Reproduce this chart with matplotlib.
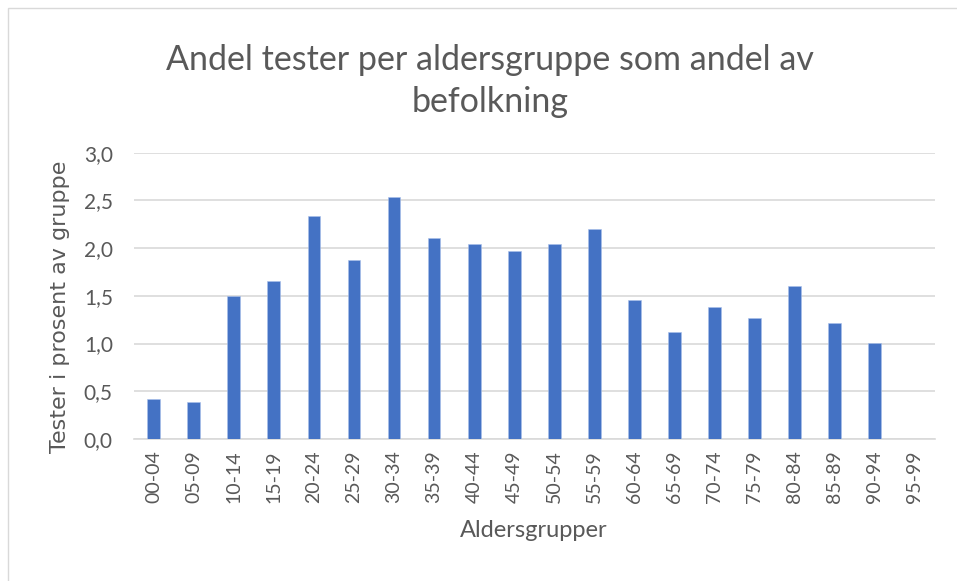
import matplotlib.pyplot as plt
from matplotlib.ticker import FuncFormatter, MultipleLocator
from matplotlib.patches import Rectangle

plt.rcParams['font.family'] = ['Lato', 'DejaVu Sans']

grupper = ['00-04', '05-09', '10-14', '15-19', '20-24', '25-29', '30-34', '35-39', '40-44', '45-49',
           '50-54', '55-59', '60-64', '65-69', '70-74', '75-79', '80-84', '85-89', '90-94', '95-99']
andel = [0.42, 0.39, 1.50, 1.66, 2.34, 1.88, 2.54, 2.11, 2.04, 1.97,
         2.04, 2.20, 1.46, 1.12, 1.38, 1.27, 1.60, 1.22, 1.01, 0.0]

tekst = '#595959'
fig = plt.figure(figsize=(9.57, 5.81), dpi=100)
fig.patches.append(Rectangle((0.008, -0.05), 1.2, 1.036, transform=fig.transFigure,
                             fill=False, edgecolor='#d9d9d9', linewidth=1))
ax = fig.add_axes([0.1397, 0.2444, 0.837, 0.4928])

x = range(len(grupper))
ax.bar(x, andel, width=0.32, color='#4472c4', edgecolor='#a9c0ea', linewidth=0.4, zorder=3)
ax.set_xlim(-0.5, len(grupper) - 0.5)
ax.set_ylim(0, 3.0)
ax.yaxis.set_major_locator(MultipleLocator(0.5))
ax.yaxis.set_major_formatter(FuncFormatter(lambda v, p: f'{v:.1f}'.replace('.', ',')))
ax.grid(axis='y', color='#d9d9d9', linewidth=1.2, zorder=0)
for s in ['top', 'right', 'left']:
	ax.spines[s].set_visible(False)
ax.spines['bottom'].set_color('#d9d9d9')
ax.spines['bottom'].set_linewidth(1.2)
ax.tick_params(length=0, colors=tekst)
ax.tick_params(axis='y', pad=15, labelsize=15)
ax.tick_params(axis='x', pad=8, labelsize=14)
ax.set_xticks(list(x))
ax.set_xticklabels(grupper, rotation=90)

ax.set_xlabel('Aldersgrupper', color=tekst, fontsize=17, labelpad=12)
ax.set_ylabel('Tester i prosent av gruppe', color=tekst, fontsize=16,
              family=['DejaVu Sans'])
ax.yaxis.set_label_coords(-0.08, 0.46)
fig.text(0.512, 0.86, 'Andel tester per aldersgruppe som andel av\nbefolkning', ha='center', va='center',
         color=tekst, fontsize=24.5, linespacing=1.38)

fig.savefig('out.png')
